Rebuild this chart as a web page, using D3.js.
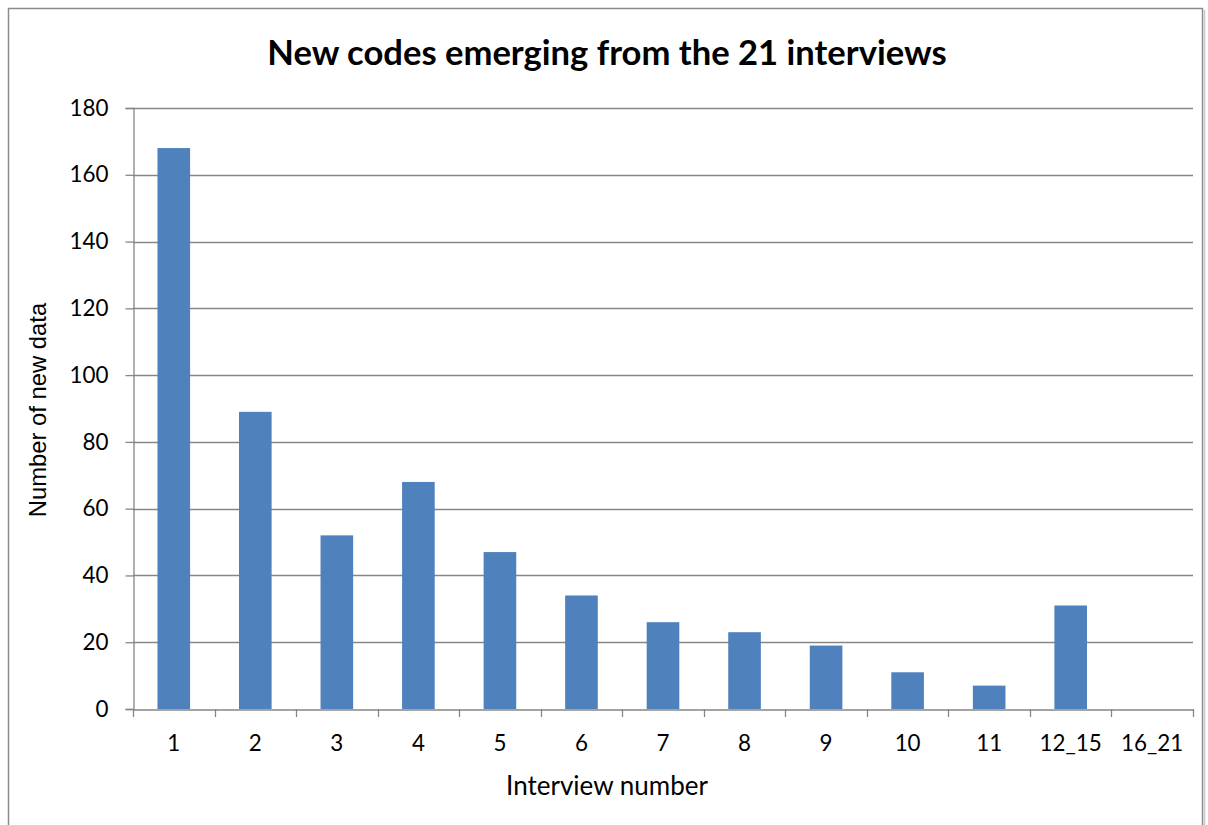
<!DOCTYPE html>
<html><head><meta charset="utf-8">
<script src="https://cdn.jsdelivr.net/npm/d3@7"></script>
<style>body{margin:0;background:#fff}svg{display:block}text{font-family:Lato,"Open Sans",sans-serif}</style>
</head><body>
<script>
const categories = ["1","2","3","4","5","6","7","8","9","10","11","12_15","16_21"];
const values = [168, 89, 52, 68, 47, 34, 26, 23, 19, 11, 7, 31, 0];
const yTicks = [0,20,40,60,80,100,120,140,160,180];
const title = "New codes emerging from the 21 interviews";
const xTitle = "Interview number";
const yTitle = "Number of new data";

(function(){
const W = 1208, H = 825;
const svg = d3.select("body").append("svg").attr("width", W).attr("height", H);
svg.append("rect").attr("x",8.5).attr("y",8.5).attr("width",1194).attr("height",830)
  .attr("fill","#fff").attr("stroke","#8c8c8c").attr("stroke-width",1.5);
svg.append("line").attr("x1",1204.5).attr("x2",1204.5).attr("y1",10).attr("y2",H).attr("stroke","#c8c8c8").attr("stroke-width",1.5);

const pL = 133, pR = 1193, pT = 108, pB = 709;
const xb = d3.scaleBand().domain(categories).range([pL, pR]);
const y = d3.scaleLinear().domain([0,180]).range([pB, pT]);

svg.append("g").selectAll("line").data(yTicks.filter(d=>d>0)).join("line")
  .attr("x1", pL).attr("x2", pR).attr("y1", d=>Math.round(y(d))+0.5).attr("y2", d=>Math.round(y(d))+0.5)
  .attr("stroke","#868686").attr("stroke-width",1.3);

svg.append("g").selectAll("rect").data(values).join("rect")
  .attr("x",(d,i)=>xb(categories[i]) + xb.bandwidth()*0.3)
  .attr("width", xb.bandwidth()*0.4)
  .attr("y", d=>y(d)).attr("height", d=>pB - y(d))
  .attr("fill","#4f81bd");

const yAxis = d3.axisLeft(y).tickValues(yTicks).tickSize(8).tickPadding(17);
const gy = svg.append("g").attr("transform",`translate(${pL+0.5},0)`).call(yAxis);
gy.select(".domain").attr("stroke","#868686").attr("stroke-width",1.3);
gy.selectAll(".tick line").attr("stroke","#868686").attr("stroke-width",1.3);
gy.selectAll(".tick text").attr("font-size",22.4).attr("fill","#000").style("font-family","Lato");

const xAxis = d3.axisBottom(xb).tickSize(0).tickPadding(26);
const gx = svg.append("g").attr("transform",`translate(0,${pB+0.5})`).call(xAxis);
gx.select(".domain").attr("stroke","#868686").attr("stroke-width",1.3);
gx.selectAll(".tick text").attr("font-size",22.4).attr("fill","#000").style("font-family","Lato");
const bounds = categories.map(c=>xb(c)).concat([pR]);
svg.append("g").selectAll("line").data(bounds).join("line")
  .attr("x1",d=>Math.round(d)+0.5).attr("x2",d=>Math.round(d)+0.5)
  .attr("y1",pB).attr("y2",pB+8).attr("stroke","#868686").attr("stroke-width",1.3);

svg.append("text").attr("x",607).attr("y",65).attr("text-anchor","middle")
  .attr("font-size",34.6).attr("font-weight","bold").text(title);
svg.append("text").attr("x",607).attr("y",795).attr("text-anchor","middle")
  .attr("font-size",26).text(xTitle);
svg.append("text").attr("transform","translate(46,410) rotate(-90)").attr("text-anchor","middle")
  .style("font-family","'Liberation Sans',Arial,sans-serif")
  .attr("font-size",23.8).text(yTitle);
})();
</script>
</body></html>
